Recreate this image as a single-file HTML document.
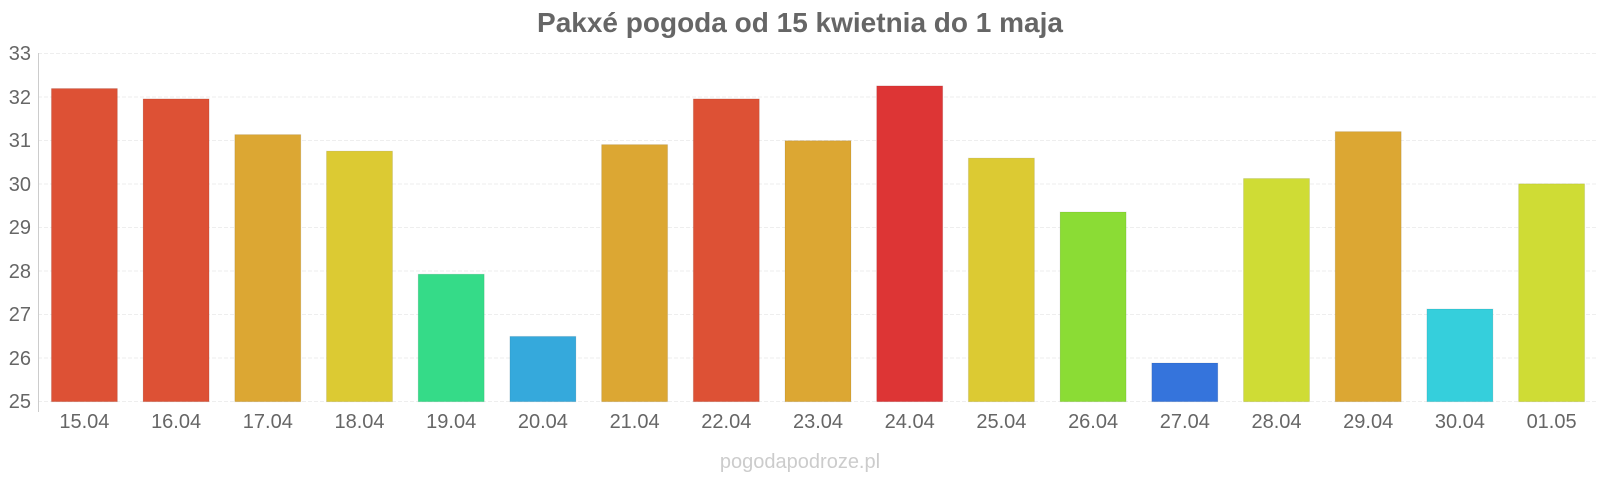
<!DOCTYPE html>
<html><head><meta charset="utf-8"><style>
html,body{margin:0;padding:0;background:#fff;}
body{width:1600px;height:480px;overflow:hidden;}
text{font-family:"Liberation Sans",Arial,sans-serif;}
</style></head><body>
<svg width="1600" height="480" xmlns="http://www.w3.org/2000/svg">
<text x="800" y="32" text-anchor="middle" font-size="28" font-weight="bold" fill="#666">Pakxé pogoda od 15 kwietnia do 1 maja</text>
<g stroke="#eee" stroke-width="1" stroke-dasharray="4,2">
<line x1="38" x2="1596" y1="53.5" y2="53.5"/>
<line x1="38" x2="1596" y1="97" y2="97"/>
<line x1="38" x2="1596" y1="140.5" y2="140.5"/>
<line x1="38" x2="1596" y1="184" y2="184"/>
<line x1="38" x2="1596" y1="227.5" y2="227.5"/>
<line x1="38" x2="1596" y1="271" y2="271"/>
<line x1="38" x2="1596" y1="314.5" y2="314.5"/>
<line x1="38" x2="1596" y1="358" y2="358"/>
<line x1="38" x2="1596" y1="401.5" y2="401.5"/>
</g>
<line x1="38.5" x2="38.5" y1="53" y2="412" stroke="#ccc"/>
<g font-size="20" fill="#666" text-anchor="end">
<text x="31" y="60">33</text><text x="31" y="104">32</text><text x="31" y="147">31</text>
<text x="31" y="191">30</text><text x="31" y="234">29</text><text x="31" y="278">28</text>
<text x="31" y="321">27</text><text x="31" y="365">26</text><text x="31" y="408">25</text>
</g>
<g stroke="rgba(0,0,0,0.08)">
<rect x="51.4" y="88.5" width="66" height="313.2" fill="#dd5135"/>
<rect x="143.1" y="98.9" width="66" height="302.8" fill="#dd5135"/>
<rect x="234.8" y="134.6" width="66" height="267.1" fill="#dca733"/>
<rect x="326.5" y="151.1" width="66" height="250.6" fill="#dcca33"/>
<rect x="418.2" y="274.2" width="66" height="127.5" fill="#35db88"/>
<rect x="509.9" y="336.4" width="66" height="65.3" fill="#35a9dc"/>
<rect x="601.6" y="144.6" width="66" height="257.1" fill="#dca733"/>
<rect x="693.3" y="98.9" width="66" height="302.8" fill="#dd5135"/>
<rect x="785.0" y="140.7" width="66" height="261" fill="#dca733"/>
<rect x="876.7" y="85.9" width="66" height="315.8" fill="#dd3535"/>
<rect x="968.4" y="158.1" width="66" height="243.6" fill="#dcca33"/>
<rect x="1060.1" y="212.0" width="66" height="189.7" fill="#8bdc35"/>
<rect x="1151.8" y="363.0" width="66" height="38.7" fill="#3574dc"/>
<rect x="1243.5" y="178.5" width="66" height="223.2" fill="#cfdc35"/>
<rect x="1335.2" y="131.6" width="66" height="270.1" fill="#dca733"/>
<rect x="1426.9" y="309.0" width="66" height="92.7" fill="#35cfdc"/>
<rect x="1518.6" y="183.8" width="66" height="217.9" fill="#cfdc35"/>
</g>
<g font-size="20" fill="#666" text-anchor="middle">
<text x="84.4" y="428">15.04</text><text x="176.1" y="428">16.04</text><text x="267.8" y="428">17.04</text>
<text x="359.5" y="428">18.04</text><text x="451.2" y="428">19.04</text><text x="542.9" y="428">20.04</text>
<text x="634.6" y="428">21.04</text><text x="726.3" y="428">22.04</text><text x="818.0" y="428">23.04</text>
<text x="909.7" y="428">24.04</text><text x="1001.4" y="428">25.04</text><text x="1093.1" y="428">26.04</text>
<text x="1184.8" y="428">27.04</text><text x="1276.5" y="428">28.04</text><text x="1368.2" y="428">29.04</text>
<text x="1459.9" y="428">30.04</text><text x="1551.6" y="428">01.05</text>
</g>
<text x="800" y="468" text-anchor="middle" font-size="20" fill="#ccc">pogodapodroze.pl</text>
</svg>
</body></html>
